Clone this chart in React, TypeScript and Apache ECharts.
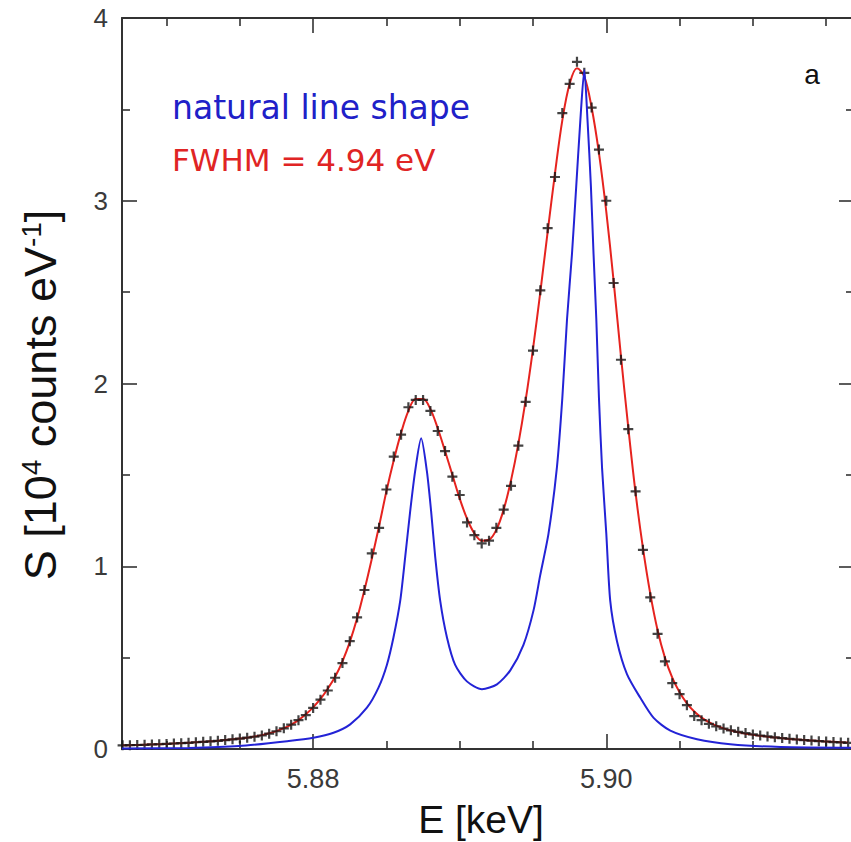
import React, { useEffect, useRef } from "react";
import * as echarts from "echarts";

// Measured spectrum points (E in keV, S in 10^4 counts/eV), 0.5 eV bins
const dataE = [
  5.867, 5.8675, 5.868, 5.8685, 5.869, 5.8695, 5.87, 5.8705, 5.871, 5.8715,
  5.872, 5.8725, 5.873, 5.8735, 5.874, 5.8745, 5.875, 5.8755, 5.876, 5.8765,
  5.877, 5.8775, 5.878, 5.8785, 5.879, 5.8795, 5.88, 5.8805, 5.881, 5.8815,
  5.882, 5.8825, 5.883, 5.8835, 5.884, 5.8845, 5.885, 5.8855, 5.886, 5.8865,
  5.887, 5.8875, 5.888, 5.8885, 5.889, 5.8895, 5.89, 5.8905, 5.891, 5.8915,
  5.892, 5.8925, 5.893, 5.8935, 5.894, 5.8945, 5.895, 5.8955, 5.896, 5.8965,
  5.897, 5.8975, 5.898, 5.8985, 5.899, 5.8995, 5.9, 5.9005, 5.901, 5.9015,
  5.902, 5.9025, 5.903, 5.9035, 5.904, 5.9045, 5.905, 5.9055, 5.906, 5.9065,
  5.907, 5.9075, 5.908, 5.9085, 5.909, 5.9095, 5.91, 5.9105, 5.911, 5.9115,
  5.912, 5.9125, 5.913, 5.9135, 5.914, 5.9145, 5.915, 5.9155, 5.916, 5.9165,
];
const dataS = [
  0.020, 0.021, 0.022, 0.023, 0.025, 0.026, 0.028, 0.030, 0.032, 0.034,
  0.037, 0.039, 0.042, 0.045, 0.049, 0.053, 0.057, 0.062, 0.067, 0.074,
  0.084, 0.097, 0.113, 0.133, 0.158, 0.185, 0.225, 0.27, 0.32, 0.39,
  0.47, 0.59, 0.72, 0.87, 1.07, 1.21, 1.42, 1.60, 1.72, 1.87,
  1.91, 1.91, 1.85, 1.74, 1.63, 1.49, 1.39, 1.24, 1.17, 1.125,
  1.14, 1.21, 1.31, 1.44, 1.66, 1.90, 2.18, 2.51, 2.85, 3.13,
  3.48, 3.64, 3.76, 3.70, 3.51, 3.28, 3.00, 2.55, 2.13, 1.75,
  1.41, 1.09, 0.83, 0.63, 0.48, 0.36, 0.30, 0.24, 0.18, 0.158,
  0.138, 0.124, 0.112, 0.102, 0.094, 0.087, 0.080, 0.074, 0.069, 0.064,
  0.060, 0.056, 0.052, 0.049, 0.046, 0.043, 0.041, 0.038, 0.036, 0.034,
];
// Fitted curve (FWHM = 4.94 eV) on the same energies
const fitS = [
  0.020, 0.021, 0.022, 0.023, 0.025, 0.026, 0.028, 0.030, 0.032, 0.034,
  0.037, 0.039, 0.042, 0.045, 0.049, 0.053, 0.057, 0.062, 0.068, 0.076,
  0.086, 0.098, 0.114, 0.134, 0.158, 0.19, 0.228, 0.274, 0.33, 0.395,
  0.48, 0.585, 0.715, 0.87, 1.04, 1.22, 1.41, 1.58, 1.73, 1.85,
  1.915, 1.915, 1.86, 1.755, 1.63, 1.5, 1.37, 1.26, 1.18, 1.14,
  1.145, 1.2, 1.31, 1.47, 1.67, 1.91, 2.19, 2.5, 2.83, 3.15,
  3.44, 3.64, 3.725, 3.68, 3.51, 3.26, 2.94, 2.56, 2.15, 1.76,
  1.4, 1.1, 0.85, 0.65, 0.5, 0.39, 0.31, 0.25, 0.205, 0.172,
  0.147, 0.128, 0.113, 0.101, 0.092, 0.084, 0.078, 0.072, 0.067, 0.063,
  0.059, 0.055, 0.052, 0.049, 0.046, 0.044, 0.041, 0.039, 0.037, 0.035,
];
// Natural line shape
const natE = [
  5.86696, 5.87152, 5.87493, 5.87834, 5.88002, 5.88139, 5.88253, 5.88367, 5.88446, 5.88503,
  5.88548, 5.88594, 5.88628, 5.88662, 5.88696, 5.88737, 5.88776, 5.88805, 5.88833, 5.88867,
  5.88913, 5.88969, 5.89049, 5.89152, 5.89254, 5.89345, 5.89435, 5.89504, 5.89549, 5.89606,
  5.89663, 5.897, 5.89732, 5.89766, 5.89795, 5.89823, 5.8985, 5.89872, 5.89895, 5.89913,
  5.89932, 5.8995, 5.89971, 5.9, 5.90027, 5.90073, 5.90141, 5.90232, 5.90323, 5.90437,
  5.90619, 5.90846, 5.91188, 5.9169,
];
const natS = [
  0.003, 0.006, 0.016, 0.044, 0.062, 0.089, 0.135, 0.226, 0.336, 0.46,
  0.61, 0.81, 1.05, 1.30, 1.52, 1.70, 1.52, 1.30, 1.05, 0.81,
  0.61, 0.46, 0.37, 0.327, 0.354, 0.43, 0.57, 0.76, 0.95, 1.18,
  1.54, 1.92, 2.35, 2.71, 3.08, 3.44, 3.715, 3.44, 3.08, 2.71,
  2.35, 1.92, 1.54, 1.18, 0.81, 0.59, 0.41, 0.28, 0.17, 0.10,
  0.053, 0.026, 0.011, 0.007,
];
const majorX = [5.88, 5.9];
const minorX = [5.87, 5.875, 5.885, 5.89, 5.895, 5.905, 5.91, 5.915];
const X_MIN = 5.86696;
const X_MAX = 5.9169;

const AX = "#333333";
const LBL = "#3a3a3a";
const RED = "#e6231f";
const BLUE = "#2323d6";

export default function App() {
  const ref = useRef<HTMLDivElement>(null);
  useEffect(() => {
    if (!ref.current) return;
    const chart = echarts.init(ref.current, undefined, { renderer: "svg" });
    const baseX = (position: string, ticks: number[], len: number, line: boolean, labels: boolean) => ({
      type: "value",
      position,
      min: X_MIN,
      max: X_MAX,
      axisLine: { show: line, onZero: false, lineStyle: { color: AX, width: 2 } },
      axisTick: { show: true, inside: true, length: len, customValues: ticks, lineStyle: { color: AX, width: 1.6 } },
      axisLabel: labels
        ? {
            show: true,
            customValues: ticks,
            formatter: (v: number) => v.toFixed(2),
            fontSize: 27,
            fontFamily: "Liberation Sans",
            color: LBL,
            margin: 16,
          }
        : { show: false },
      splitLine: { show: false },
    });
    const baseY = (position: string, labels: boolean) => ({
      type: "value",
      position,
      min: 0,
      max: 4,
      interval: 1,
      axisLine: { show: true, onZero: false, lineStyle: { color: AX, width: 2 } },
      axisTick: { show: true, inside: true, length: 15, lineStyle: { color: AX, width: 1.6 } },
      minorTick: { show: true, splitNumber: 2, length: 8, lineStyle: { color: AX, width: 1.6 } },
      axisLabel: labels
        ? { show: true, fontSize: 26, fontFamily: "Liberation Sans", color: LBL, margin: 14 }
        : { show: false },
      splitLine: { show: false },
      minorSplitLine: { show: false },
    });
    chart.setOption({
      animation: false,
      backgroundColor: "#ffffff",
      grid: { left: 122, top: 18, right: 6, bottom: 93, containLabel: false },
      xAxis: [
        baseX("bottom", majorX, 15, true, true),
        baseX("bottom", minorX, 8, false, false),
        baseX("top", majorX, 15, true, false),
        baseX("top", minorX, 8, false, false),
      ],
      yAxis: [baseY("left", true), baseY("right", false)],
      series: [
        {
          type: "line",
          name: "fit",
          data: dataE.map((e, i) => [e, fitS[i]]),
          showSymbol: false,
          smooth: 0.35,
          lineStyle: { color: RED, width: 2 },
          z: 2,
        },
        {
          type: "scatter",
          name: "data",
          data: dataE.map((e, i) => [e, dataS[i]]),
          symbol: "path://M3.9,0H6.1V3.9H10V6.1H6.1V10H3.9V6.1H0V3.9H3.9Z",
          symbolSize: [10, 10],
          itemStyle: { color: "#151515" },
          z: 3,
        },
        {
          type: "line",
          name: "natural",
          data: natE.map((e, i) => [e, natS[i]]),
          showSymbol: false,
          smooth: 0.25,
          lineStyle: { color: BLUE, width: 2 },
          z: 4,
        },
      ],
      graphic: [
        {
          type: "text",
          x: 172,
          y: 107,
          style: {
            text: "natural line shape",
            fontSize: 33,
            fontFamily: "DejaVu Sans",
            fill: "#2020c8",
            align: "left",
            verticalAlign: "middle",
          },
        },
        {
          type: "text",
          x: 172,
          y: 160,
          style: {
            text: "FWHM = 4.94 eV",
            fontSize: 31,
            fontFamily: "DejaVu Sans",
            fill: "#e02424",
            align: "left",
            verticalAlign: "middle",
          },
        },
        {
          type: "text",
          x: 812,
          y: 74,
          style: {
            text: "a",
            fontSize: 28,
            fontFamily: "Liberation Sans",
            fill: "#111",
            align: "center",
            verticalAlign: "middle",
          },
        },
        {
          type: "text",
          x: 481,
          y: 819,
          style: {
            text: "E [keV]",
            fontSize: 39,
            fontFamily: "Liberation Sans",
            fill: "#111",
            align: "center",
            verticalAlign: "middle",
          },
        },
        {
          type: "text",
          x: 40,
          y: 395,
          rotation: Math.PI / 2,
          style: {
            text: "S [10{sup|4} counts eV{sup|-1}]",
            fontSize: 45,
            fontFamily: "Liberation Sans",
            fill: "#111",
            align: "center",
            verticalAlign: "middle",
            rich: {
              sup: {
                fontSize: 28,
                fontFamily: "Liberation Sans",
                fill: "#111",
                verticalAlign: "top",
                padding: [0, 0, 16, 0],
              },
            },
          },
        },
      ],
    });
    return () => chart.dispose();
  }, []);
  return (
    <div
      ref={ref}
      style={{ position: "fixed", left: 0, top: 0, width: 860, height: 842, background: "#fff" }}
    />
  );
}
